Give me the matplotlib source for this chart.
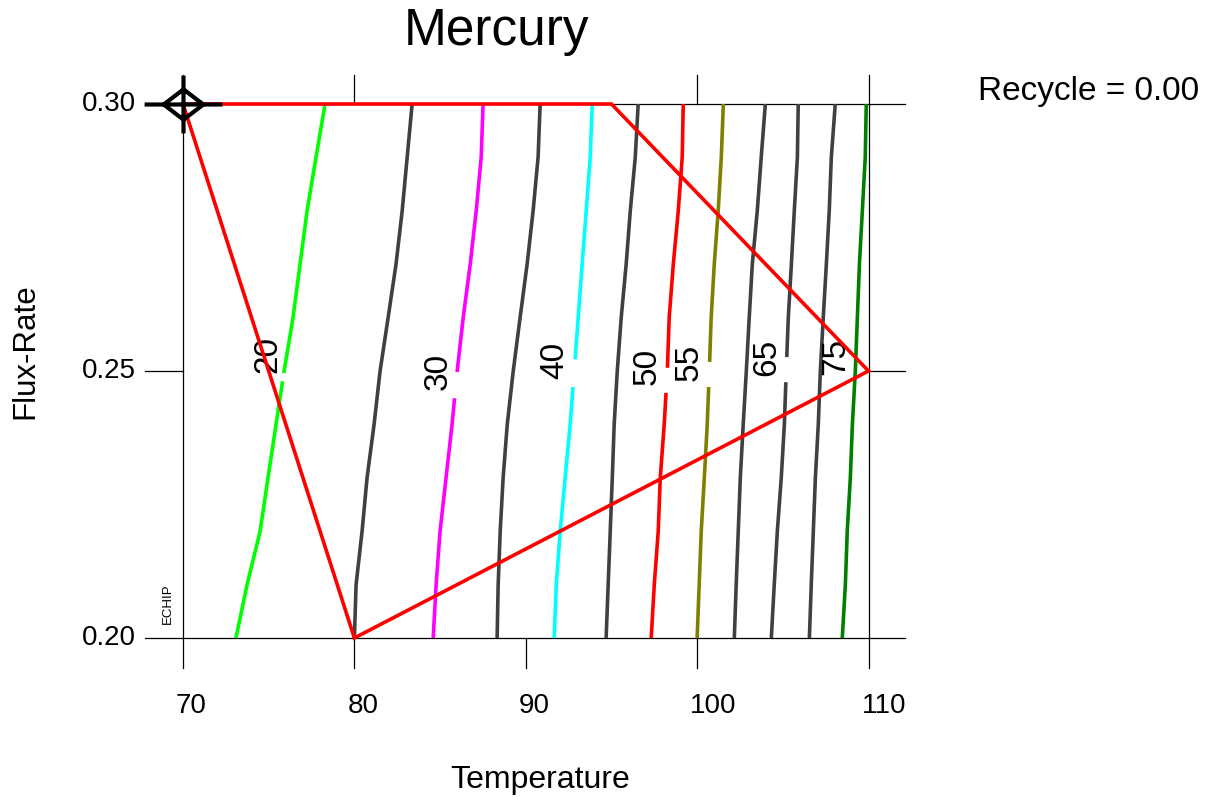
import numpy as np
import matplotlib
matplotlib.use('Agg')
import matplotlib.pyplot as plt
from matplotlib.path import Path
import matplotlib.transforms as mtransforms

plt.rcParams['font.family'] = ['Liberation Sans', 'DejaVu Sans']

# ---------------- data ----------------
flux = [0.30, 0.29, 0.28, 0.27, 0.26, 0.25, 0.24, 0.23, 0.22, 0.21, 0.20]

c20 = [78.29, 77.76, 77.24, 76.83, 76.42, 75.90, 75.43, 74.96, 74.50, 73.74, 73.09]
c25 = [83.37, 83.08, 82.79, 82.43, 81.97, 81.50, 81.15, 80.74, 80.45, 80.10, 80.00]
c30 = [87.51, 87.40, 87.11, 86.76, 86.35, 86.00, 85.70, 85.35, 85.00, 84.77, 84.60]
c35 = [90.84, 90.72, 90.43, 90.08, 89.67, 89.27, 88.92, 88.68, 88.51, 88.39, 88.33]
c40 = [93.88, 93.76, 93.53, 93.29, 93.06, 92.83, 92.59, 92.30, 92.01, 91.78, 91.66]
c45 = [96.56, 96.39, 96.10, 95.86, 95.57, 95.34, 95.16, 95.05, 94.93, 94.81, 94.69]
c50 = [99.19, 99.13, 98.90, 98.61, 98.37, 98.26, 98.08, 97.85, 97.73, 97.50, 97.32]
c55 = [101.53, 101.41, 101.23, 101.00, 100.82, 100.71, 100.59, 100.42, 100.24, 100.12, 100.00]
c60 = [103.98, 103.74, 103.51, 103.22, 103.04, 102.87, 102.69, 102.52, 102.40, 102.28, 102.17]
c65 = [105.90, 105.85, 105.67, 105.50, 105.32, 105.20, 105.09, 104.91, 104.68, 104.50, 104.33]
c70 = [108.06, 107.83, 107.71, 107.54, 107.36, 107.19, 107.07, 106.90, 106.78, 106.66, 106.55]
c75 = [109.87, 109.81, 109.64, 109.47, 109.35, 109.23, 109.06, 108.94, 108.76, 108.65, 108.47]

levels = [20, 25, 30, 35, 40, 45, 50, 55, 60, 65, 70, 75]
contours = [c20, c25, c30, c35, c40, c45, c50, c55, c60, c65, c70, c75]
colors = ['#00ff00', '#404040', '#ff00ff', '#404040', '#00ffff', '#404040',
          '#ff0000', '#808000', '#404040', '#404040', '#404040', '#008000']
# label gaps (upper y, lower y) on the labelled contours
gaps = {20: (0.2496, 0.2481), 30: (0.2498, 0.2449), 40: (0.2522, 0.2470),
        50: (0.2506, 0.2459), 55: (0.2517, 0.2470), 65: (0.2526, 0.2479)}
label_levels = [20, 30, 40, 50, 55, 65, 75]
label_x = [74.96, 84.89, 91.72, 97.09, 99.54, 104.09, 108.06]
label_y = [0.2530, 0.2500, 0.2520, 0.2508, 0.2517, 0.2526, 0.2528]

region_x = [70, 95, 110, 80, 70]
region_y = [0.30, 0.30, 0.25, 0.20, 0.30]

marker_x = [70]
marker_y = [0.30]

x_ticks = [70, 80, 90, 100, 110]
y_ticks = [0.20, 0.25, 0.30]
y_ticklabels = ['0.20', '0.25', '0.30']

# ---------------- figure ----------------
W, H = 1208, 797
fig = plt.figure(figsize=(W / 100, H / 100), dpi=100)
L, R, T, B = 183, 868.5, 104, 638
ax = fig.add_axes([L / W, 1 - B / H, (R - L) / W, (B - T) / H])
ax.set_xlim(70, 110)
ax.set_ylim(0.20, 0.30)
ax.axis('off')

# frame lines
ext_l = (L - 145) / (R - L)
ext_r = (905 - R) / (R - L)
ext_b = (668 - B) / (B - T)
ext_t = (T - 75) / (B - T)
ytr = ax.get_yaxis_transform()
xtr = ax.get_xaxis_transform()
fk = dict(color='black', lw=0.9, clip_on=False, zorder=1)
for yv in [0.30, 0.20]:
    ax.plot([-ext_l, 1 + ext_r], [yv, yv], transform=ytr, **fk)
ax.plot([-ext_l, 0], [0.25, 0.25], transform=ytr, **fk)
ax.plot([1, 1 + ext_r], [0.25, 0.25], transform=ytr, **fk)
for xv in [70, 110]:
    ax.plot([xv, xv], [-ext_b, 1 + ext_t], transform=xtr, **fk)
for xv in [80, 90, 100]:
    ax.plot([xv, xv], [-ext_b, 0], transform=xtr, **fk)
for xv in [80, 100]:
    ax.plot([xv, xv], [1, 1 + ext_t], transform=xtr, **fk)

# contours
fy = np.array(flux)
for lev, cx, col in zip(levels, contours, colors):
    cx = np.array(cx)
    kw = dict(color=col, lw=2.6, solid_capstyle='butt', zorder=3, clip_on=False)
    if lev in gaps:
        gt, gb = gaps[lev]
        xt = np.interp(gt, fy[::-1], cx[::-1])
        xb = np.interp(gb, fy[::-1], cx[::-1])
        up = fy > gt
        lo = fy < gb
        ax.plot(np.r_[cx[up], xt], np.r_[fy[up], gt], **kw)
        ax.plot(np.r_[xb, cx[lo]], np.r_[gb, fy[lo]], **kw)
    else:
        ax.plot(cx, fy, **kw)

for lev, lx, ly in zip(label_levels, label_x, label_y):
    ax.text(lx, ly, str(lev), rotation=90, ha='center', va='center',
            fontsize=24, color='black', zorder=4)

# region
ax.plot(region_x, region_y, color='#ff0000', lw=2.6, zorder=5, clip_on=False,
        solid_joinstyle='miter')

# marker
verts = [(-0.51, 0), (0, -0.39), (0.51, 0), (0, 0.39), (-0.51, 0),
         (-1, 0), (1, 0), (0, -0.744), (0, 0.744)]
codes = [Path.MOVETO, Path.LINETO, Path.LINETO, Path.LINETO, Path.CLOSEPOLY,
         Path.MOVETO, Path.LINETO, Path.MOVETO, Path.LINETO]
mpath = Path(verts, codes)
ax.plot(marker_x, marker_y, linestyle='none', marker=mpath, markersize=56,
        markerfacecolor='none', markeredgecolor='black', markeredgewidth=3.0,
        zorder=6, clip_on=False)

# tick labels
off_x = mtransforms.ScaledTranslation(-7 / 100, 0, fig.dpi_scale_trans)
for xv in x_ticks:
    ax.text(xv, -(706 - B) / (B - T), str(xv), transform=xtr + off_x,
            ha='left', va='center', fontsize=20)
for yv, lab in zip(y_ticks, y_ticklabels):
    ax.text(-(L - 136) / (R - L), yv, lab, transform=ytr,
            ha='right', va='center', fontsize=20)

# texts
fig.text(497 / W, 1 - 45 / H, 'Mercury', ha='center', va='baseline', fontsize=37)
fig.text(978 / W, 1 - 100 / H, 'Recycle = 0.00', ha='left', va='baseline', fontsize=24)
fig.text(540 / W, 1 - 780 / H, 'Temperature', ha='center', va='center', fontsize=23)
fig.text(25 / W, 1 - 351 / H, 'Flux-Rate', ha='center', va='center', rotation=90, fontsize=22.5)
fig.text(168 / W, 1 - 604 / H, 'ECHIP', ha='center', va='center', rotation=90, fontsize=9.5)

fig.savefig('out.png', dpi=100)
